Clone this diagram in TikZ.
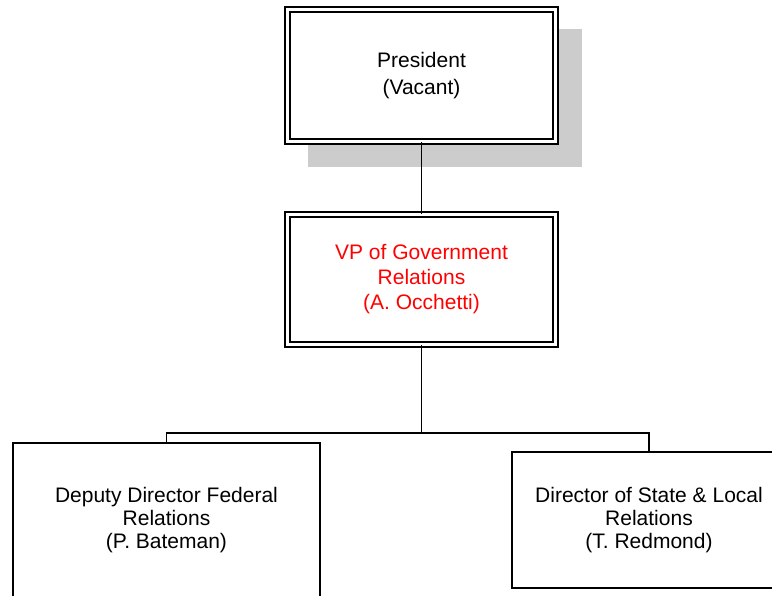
\documentclass[tikz,border=0pt]{standalone}
\usepackage{fontspec}
\setmainfont{Liberation Sans}
\begin{document}
\begin{tikzpicture}[x=1pt,y=-1pt,
  every node/.style={font=\fontsize{21}{25}\selectfont, align=center},
  dblbox/.style={draw, double, line width=1.6pt, double distance=3.4pt, fill=white,
    minimum width=267.5pt, inner sep=0pt},
  plainbox/.style={draw, line width=1.7pt, fill=white, inner sep=0pt},
  conn/.style={draw, line width=1.8pt}]
\useasboundingbox (0,0) rectangle (772,596);
\clip (0,0) rectangle (772,596);
% shadow
\fill[gray!40] (308,29) rectangle (582,167);
\node[dblbox, minimum height=132pt, font=\fontsize{21}{26.6}\selectfont] (pres) at (421.5,75.5) {President\\(Vacant)};
\node[dblbox, minimum height=130pt, text=red] (vp) at (421.5,279.5) {VP of Government\\Relations\\(A. Occhetti)};
\node[plainbox, minimum width=307pt, minimum height=154pt, font=\fontsize{21}{23}\selectfont] (fed) at (166.5,520) {Deputy Director Federal\\Relations\\(P. Bateman)};
\node[plainbox, minimum width=274pt, minimum height=136pt, font=\fontsize{21}{23}\selectfont] (state) at (649,520) {Director of State \& Local\\Relations\\(T. Redmond)};
\coordinate (j) at (421.5,433);
\draw[conn] (pres.south) -- (vp.north);
\draw[conn] (vp.south) -- (j);
\draw[conn] (fed.north) |- (j) -| (state.north);
\end{tikzpicture}
\end{document}
